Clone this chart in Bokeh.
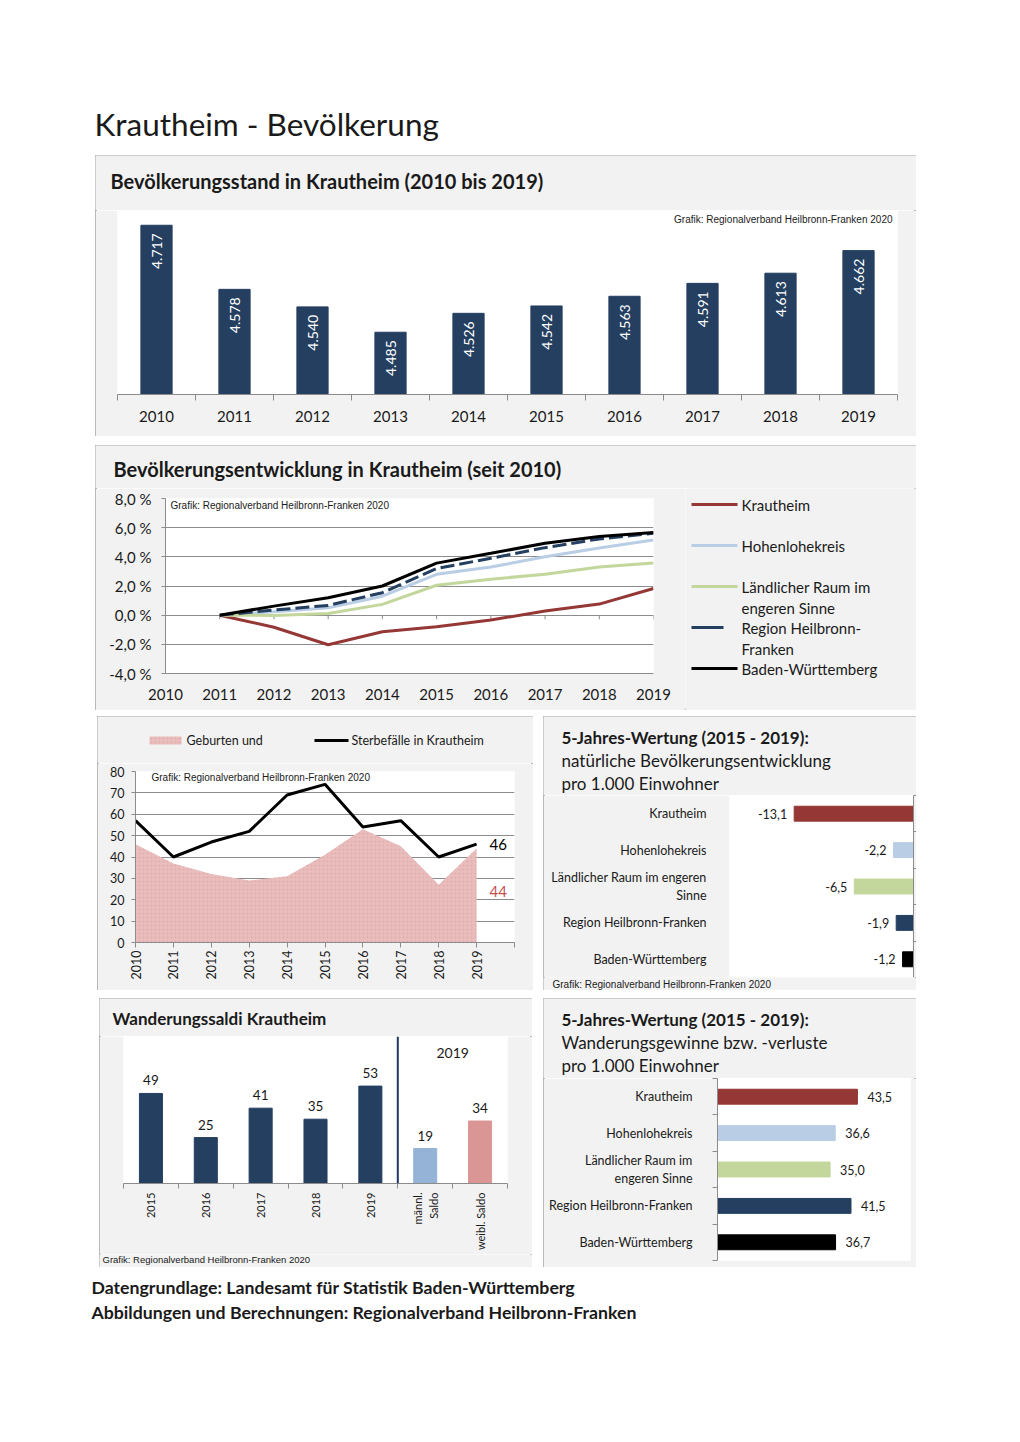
import math
from bokeh.plotting import figure
from bokeh.models import (Range1d, FixedTicker, Label, Span, LinearAxis, Grid, Spacer)
from bokeh.layouts import column, row
from bokeh.embed import file_html
from bokeh.resources import INLINE
from bokeh.core.properties import value

FONT = "Lato"
ARIAL = "Liberation Sans"
PANEL_BG = "#f2f2f2"
AXIS_GRAY = "#8c8c8c"
NAVY = "#243F60"
TXT = "#1a1a1a"
CREDIT = "Grafik: Regionalverband Heilbronn-Franken 2020"
BORDER = {"outline": "2px solid #a6a6a6", "outline-offset": "-2px"}

# ---------------- data ----------------
page_title = "Krautheim - Bevölkerung"

stand_years = ["2010", "2011", "2012", "2013", "2014", "2015", "2016", "2017", "2018", "2019"]
stand_values = [4717, 4578, 4540, 4485, 4526, 4542, 4563, 4591, 4613, 4662]

dev_axis_years = [2010, 2011, 2012, 2013, 2014, 2015, 2016, 2017, 2018, 2019]
dev_years = [2011, 2012, 2013, 2014, 2015, 2016, 2017, 2018, 2019]
dev_krautheim = [0.0, -0.83, -2.03, -1.14, -0.79, -0.33, 0.28, 0.76, 1.83]
dev_hohenlohe = [0.0, 0.23, 0.50, 1.30, 2.80, 3.30, 4.00, 4.60, 5.15]
dev_laendlich = [0.0, -0.02, 0.12, 0.74, 2.05, 2.47, 2.80, 3.30, 3.57]
dev_region = [0.0, 0.35, 0.67, 1.54, 3.20, 3.90, 4.63, 5.23, 5.62]
dev_bw = [0.0, 0.62, 1.20, 2.00, 3.57, 4.24, 4.93, 5.39, 5.67]
dev_ticks = [-4, -2, 0, 2, 4, 6, 8]

regions = ["Krautheim", "Hohenlohekreis", "Ländlicher Raum im engeren Sinne",
           "Region Heilbronn-Franken", "Baden-Württemberg"]
region_colors = ["#953735", "#B9CDE5", "#C3D69B", "#243F60", "#000000"]
region_legend_lines = [["Krautheim"], ["Hohenlohekreis"], ["Ländlicher Raum im", "engeren Sinne"],
                       ["Region Heilbronn-", "Franken"], ["Baden-Württemberg"]]

nat_years = [2010, 2011, 2012, 2013, 2014, 2015, 2016, 2017, 2018, 2019]
geburten = [46, 37, 32, 29, 31, 41, 53, 45, 27, 44]
sterbefaelle = [57, 40, 47, 52, 69, 74, 54, 57, 40, 46]
nat_ticks = [0, 10, 20, 30, 40, 50, 60, 70, 80]
nat_legend = ["Geburten und", "Sterbefälle in Krautheim"]

nat_saldo = [-13.1, -2.2, -6.5, -1.9, -1.2]
nat_cat_labels = ["Krautheim", "Hohenlohekreis", "Ländlicher Raum im engeren\nSinne",
                  "Region Heilbronn-Franken", "Baden-Württemberg"]

wand_cats = ["2015", "2016", "2017", "2018", "2019", "männl.\nSaldo", "weibl. Saldo"]
wand_values = [49, 25, 41, 35, 53, 19, 34]
wand_colors = [NAVY, NAVY, NAVY, NAVY, NAVY, "#95B3D7", "#D99694"]

mig_saldo = [43.5, 36.6, 35.0, 41.5, 36.7]
mig_cat_labels = ["Krautheim", "Hohenlohekreis", "Ländlicher Raum im\nengeren Sinne",
                  "Region Heilbronn-Franken", "Baden-Württemberg"]

footer_lines = ["Datengrundlage: Landesamt für Statistik Baden-Württemberg",
                "Abbildungen und Berechnungen: Regionalverband Heilbronn-Franken"]


def de1(v):
    return f"{v:.1f}".replace(".", ",")


def de_thousands(v):
    return f"{v:,}".replace(",", ".")


def no_align(p):
    try:
        p.frame_align = False
    except Exception:
        pass


def make_panel(w, h, left, right, top, bottom, xr, yr, bg="white"):
    p = figure(width=w, height=h, x_range=xr, y_range=yr, output_backend="svg",
               toolbar_location=None, tools="", x_axis_location=None, y_axis_location=None,
               min_border_left=left, min_border_top=top, min_border_right=right,
               min_border_bottom=bottom)
    p.center = [c for c in p.center if not isinstance(c, Grid)]
    p.border_fill_color = PANEL_BG
    p.background_fill_color = bg
    p.outline_line_color = None
    no_align(p)
    return p


def tfig(w, h, bg=PANEL_BG):
    p = figure(width=w, height=h, x_range=Range1d(0, w), y_range=Range1d(h, 0),
               output_backend="svg", toolbar_location=None, tools="",
               x_axis_location=None, y_axis_location=None, min_border=0)
    p.center = [c for c in p.center if not isinstance(c, Grid)]
    p.outline_line_color = None
    p.background_fill_color = bg
    p.border_fill_color = bg
    no_align(p)
    return p


def tadd(p, x, y, text, size, bold=False, align="left", baseline="middle",
         color=TXT, font=FONT):
    p.text(x=[x], y=[y], text=[text], text_font=value(font), text_font_size=size,
           text_font_style="bold" if bold else "normal", text_align=align,
           text_baseline=baseline, text_color=color)


def style_axis(ax, size="15px"):
    ax.axis_line_color = AXIS_GRAY
    ax.major_tick_line_color = AXIS_GRAY
    ax.minor_tick_line_color = AXIS_GRAY
    ax.major_label_text_font = FONT
    ax.major_label_text_font_size = size
    ax.major_label_text_color = TXT


def screen_label(p, x, y, text, size, align="left", baseline="middle", font=ARIAL):
    p.add_layout(Label(x=x, y=y, x_units="screen", y_units="screen", text=text,
                       text_font=font, text_font_size=size, text_align=align,
                       text_baseline=baseline, text_color=TXT))


# ---------------- page title ----------------
pt = tfig(1020, 155, bg="white")
tadd(pt, 94, 123, page_title, "31.5px")

# ---------------- panel 1 ----------------
W1 = 821
t1 = tfig(W1, 55)
tadd(t1, 15, 25, "Bevölkerungsstand in Krautheim (2010 bis 2019)", "20px", bold=True)
idx1 = list(range(len(stand_years)))
c1 = make_panel(W1, 226, 22, 19, 0, 42, Range1d(-0.5, len(idx1) - 0.5), Range1d(4350, 4749))
ax = LinearAxis(ticker=FixedTicker(ticks=idx1, minor_ticks=[i - 0.5 for i in range(len(idx1) + 1)]),
                major_label_overrides={i: y for i, y in zip(idx1, stand_years)})
style_axis(ax)
ax.major_tick_out = 0
ax.major_tick_in = 0
ax.minor_tick_out = 6
ax.minor_tick_in = 0
ax.major_label_standoff = 10
c1.add_layout(ax, "below")
c1.vbar(x=idx1, top=stand_values, bottom=c1.y_range.start, width=0.4, color=NAVY)
c1.text(x=idx1, y=stand_values, text=[de_thousands(v) for v in stand_values], angle=math.pi / 2,
        text_align="right", text_baseline="middle", y_offset=8, text_color="white",
        text_font=value(FONT), text_font_size="14px")
screen_label(c1, 775, 175, CREDIT, "10px", align="right")
panel1 = column(t1, c1, styles=BORDER)

# ---------------- panel 2 ----------------
W2, W2c, W2l = 821, 590, 231
t2 = tfig(W2, 43)
tadd(t2, 18, 23, "Bevölkerungsentwicklung in Krautheim (seit 2010)", "20px", bold=True)
c2 = make_panel(W2c, 222, 70, 32, 10, 37, Range1d(dev_axis_years[0], dev_axis_years[-1]),
                Range1d(dev_ticks[0], dev_ticks[-1]))
yax = LinearAxis(ticker=FixedTicker(ticks=dev_ticks),
                 major_label_overrides={t: f"{de1(t)} %" for t in dev_ticks})
style_axis(yax)
yax.major_tick_out = 4
yax.major_tick_in = 0
yax.major_label_standoff = 10
c2.add_layout(yax, "left")
xax = LinearAxis(ticker=FixedTicker(ticks=dev_axis_years),
                 major_label_overrides={y: str(y) for y in dev_axis_years})
style_axis(xax)
xax.major_tick_out = 0
xax.major_tick_in = 0
xax.major_label_standoff = 15
c2.add_layout(xax, "below")
c2.add_layout(Grid(dimension=1, ticker=FixedTicker(ticks=dev_ticks), grid_line_color=AXIS_GRAY))
c2.segment(x0=dev_axis_years[1:], y0=[0] * 9, x1=dev_axis_years[1:], y1=[-0.28] * 9,
           line_color=AXIS_GRAY, line_width=1)
dev_series = [dev_krautheim, dev_hohenlohe, dev_laendlich, dev_region, dev_bw]
for s, c in zip(dev_series, region_colors):
    dash = "14 5" if c == "#243F60" else "solid"
    c2.line(dev_years, s, line_color=c, line_width=3, line_dash=dash)
screen_label(c2, 5, 168, CREDIT, "10px")

leg2 = tfig(W2l, 222)
row_y = [16, 57, 98, 139, 180]
line_end = [52, 52, 52, 38, 52]
leg2.segment(x0=[6] * 5, y0=row_y, x1=line_end, y1=row_y, line_color=region_colors, line_width=3)
lx, ly, lt = [], [], []
for y0, lines in zip(row_y, region_legend_lines):
    for k, t in enumerate(lines):
        lx.append(56)
        ly.append(y0 + 21 * k)
        lt.append(t)
leg2.text(x=lx, y=ly, text=lt, text_baseline="middle", text_font=value(FONT),
          text_font_size="15px", text_color=TXT)
panel2 = column(t2, row(c2, leg2), styles=BORDER)

# ---------------- panel 3 ----------------
W3 = 436
t3 = tfig(W3, 47)
t3.quad(left=[52], right=[84], top=[20], bottom=[28], fill_color="#E8BDBC", line_color=None,
        hatch_pattern=".", hatch_color="#d99a99", hatch_scale=4, hatch_alpha=0.5)
t3.segment(x0=[217], y0=[24], x1=[251], y1=[24], line_color="black", line_width=3)
t3.text(x=[89, 254], y=[24, 24], text=nat_legend, text_baseline="middle",
        text_font=value(FONT), text_font_size="12.5px", text_color=TXT)
c3 = make_panel(W3, 227, 38, 19, 8, 48, Range1d(nat_years[0], nat_years[-1] + 1),
                Range1d(nat_ticks[0], nat_ticks[-1]))
y3 = LinearAxis(ticker=FixedTicker(ticks=nat_ticks))
style_axis(y3, "12.5px")
y3.major_tick_out = 4
y3.major_tick_in = 0
y3.major_label_standoff = 7
c3.add_layout(y3, "left")
x3ticks = nat_years + [nat_years[-1] + 1]
x3 = LinearAxis(ticker=FixedTicker(ticks=x3ticks),
                major_label_overrides={y: (str(y) if y in nat_years else "") for y in x3ticks},
                major_label_orientation=math.pi / 2)
style_axis(x3, "12.5px")
x3.major_tick_out = 5
x3.major_tick_in = 0
x3.major_label_standoff = 3
c3.add_layout(x3, "below")
c3.add_layout(Grid(dimension=1, ticker=FixedTicker(ticks=nat_ticks), grid_line_color=AXIS_GRAY))
c3.varea(x=nat_years, y1=0, y2=geburten, fill_color="#E8BDBC",
         hatch_pattern=".", hatch_color="#d99a99", hatch_scale=4, hatch_alpha=0.5)
c3.line(nat_years, sterbefaelle, line_color="black", line_width=3)
c3.text(x=[nat_years[-1]] * 2, y=[sterbefaelle[-1], geburten[-1]],
        text=[str(sterbefaelle[-1]), str(geburten[-1])], x_offset=13, y_offset=[0, 43],
        text_color=["black", "#C0504D"], text_baseline="middle",
        text_font=value(FONT), text_font_size="15px")
screen_label(c3, 16, 165, CREDIT, "10px")
panel3 = column(t3, c3, styles=BORDER)

# ---------------- panel 4 ----------------
W4 = 373
t4 = tfig(W4, 79)
tadd(t4, 18, 21, "5-Jahres-Wertung (2015 - 2019):", "17px", bold=True)
tadd(t4, 18, 44, "natürliche Bevölkerungsentwicklung", "17px")
tadd(t4, 18, 67, "pro 1.000 Einwohner", "17px")
idx4 = list(range(len(regions)))
c4 = make_panel(W4, 182, 186, 3, 0, 0, Range1d(-20.2, 0), Range1d(len(idx4) - 0.5, -0.5))
r4 = LinearAxis(ticker=FixedTicker(ticks=[], minor_ticks=[i - 0.5 for i in range(len(idx4) + 1)]))
style_axis(r4)
r4.minor_tick_out = 3
r4.minor_tick_in = 0
r4.major_label_standoff = 0
c4.add_layout(r4, "right")
l4 = LinearAxis(ticker=FixedTicker(ticks=idx4),
                major_label_overrides={i: lab for i, lab in zip(idx4, nat_cat_labels)})
style_axis(l4, "12.5px")
l4.axis_line_color = None
l4.major_tick_line_color = None
l4.major_tick_out = 0
l4.major_label_standoff = 23
c4.add_layout(l4, "left")
c4.hbar(y=idx4, left=nat_saldo, right=0, height=0.41, color=region_colors)
c4.text(x=nat_saldo, y=idx4, text=[de1(v) for v in nat_saldo], x_offset=-7, text_align="right",
        text_baseline="middle", text_font=value(FONT), text_font_size="12.5px", text_color=TXT)
b4 = tfig(W4, 13)
tadd(b4, 9, 7, CREDIT, "10px", font=ARIAL)
panel4 = column(t4, c4, b4, styles=BORDER)

# ---------------- panel 5 ----------------
W5 = 433
t5 = tfig(W5, 38)
tadd(t5, 13, 20, "Wanderungssaldi Krautheim", "17px", bold=True)
idx5 = list(range(len(wand_cats)))
c5 = make_panel(W5, 218, 24, 25, 0, 71, Range1d(-0.5, len(idx5) - 0.5), Range1d(0, 80))
x5 = LinearAxis(ticker=FixedTicker(ticks=idx5, minor_ticks=[i - 0.5 for i in range(len(idx5) + 1)]),
                major_label_overrides={i: c for i, c in zip(idx5, wand_cats)},
                major_label_orientation=math.pi / 2)
style_axis(x5, "11px")
x5.major_tick_out = 0
x5.major_tick_in = 0
x5.minor_tick_out = 5
x5.minor_tick_in = 0
x5.major_label_standoff = 4
c5.add_layout(x5, "below")
c5.vbar(x=idx5, top=wand_values, width=0.42, color=wand_colors)
c5.text(x=idx5, y=wand_values, text=[str(v) for v in wand_values], y_offset=-8,
        text_align="center", text_baseline="bottom", text_font=value(FONT),
        text_font_size="13.5px", text_color=TXT)
c5.add_layout(Span(location=4.5, dimension="height", line_color="#1F3864", line_width=2))
c5.add_layout(Label(x=5.5, y=131, x_units="data", y_units="screen", text="2019",
                    text_align="center", text_baseline="middle", text_font=FONT,
                    text_font_size="14px", text_color=TXT))
b5 = tfig(W5, 13)
tadd(b5, 3, 5, CREDIT, "9.5px", font=ARIAL)
panel5 = column(t5, c5, b5, styles=BORDER)

# ---------------- panel 6 ----------------
W6 = 373
t6 = tfig(W6, 80)
tadd(t6, 18, 21, "5-Jahres-Wertung (2015 - 2019):", "17px", bold=True)
tadd(t6, 18, 44, "Wanderungsgewinne bzw. -verluste", "17px")
tadd(t6, 18, 67, "pro 1.000 Einwohner", "17px")
idx6 = list(range(len(regions)))
c6 = make_panel(W6, 189, 174, 6, 0, 7, Range1d(0, 60), Range1d(len(idx6) - 0.5, -0.5))
l6 = LinearAxis(ticker=FixedTicker(ticks=idx6, minor_ticks=[i - 0.5 for i in range(len(idx6) + 1)]),
                major_label_overrides={i: lab for i, lab in zip(idx6, mig_cat_labels)})
style_axis(l6, "12.5px")
l6.major_tick_out = 0
l6.major_tick_in = 0
l6.minor_tick_out = 5
l6.minor_tick_in = 0
l6.major_label_standoff = 20
c6.add_layout(l6, "left")
c6.hbar(y=idx6, left=0, right=mig_saldo, height=0.41, color=region_colors)
c6.text(x=mig_saldo, y=idx6, text=[de1(v) for v in mig_saldo], x_offset=10, text_align="left",
        text_baseline="middle", text_font=value(FONT), text_font_size="12.5px", text_color=TXT)
panel6 = column(t6, c6, styles=BORDER)

# ---------------- footer ----------------
pf = tfig(1020, 100, bg="white")
pf.text(x=[91, 91], y=[20, 45], text=footer_lines, text_font=value(FONT), text_font_size="17.7px",
        text_font_style="bold", text_color=TXT, text_baseline="middle")

page = column(
    pt,
    row(Spacer(width=95, height=281), panel1),
    Spacer(width=10, height=9),
    row(Spacer(width=95, height=265), panel2),
    Spacer(width=10, height=6),
    row(Spacer(width=97, height=274), panel3, Spacer(width=10, height=274), panel4),
    Spacer(width=10, height=8),
    row(Spacer(width=99, height=269), panel5, Spacer(width=11, height=269), panel6),
    pf,
)

with open("out.html", "w") as f:
    f.write(file_html(page, INLINE))
